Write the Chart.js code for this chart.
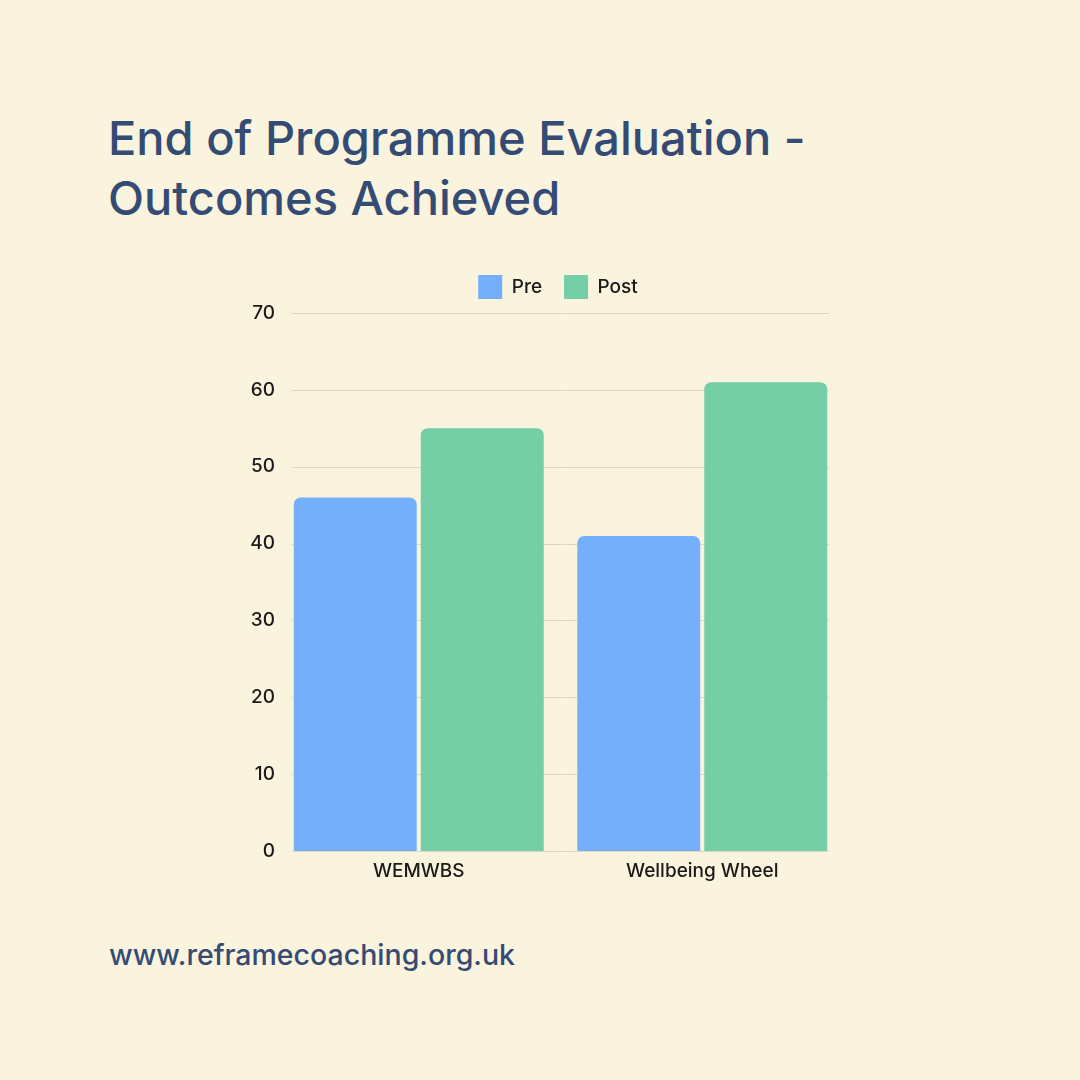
<!DOCTYPE html>
<html>
<head>
<meta charset="utf-8">
<script src="https://cdn.jsdelivr.net/npm/chart.js@4.4.0/dist/chart.umd.min.js"></script>
<style>
  html, body { margin:0; padding:0; width:1080px; height:1080px; background:#FAF3DD; overflow:hidden; }
  #title { position:absolute; left:108px; top:108px; margin:0; font-family:Inter, "Noto Sans", sans-serif; font-weight:500; font-size:47px; line-height:60px; color:#344B74; }
  #footer { position:absolute; left:109px; top:937px; font-family:Inter, "Noto Sans", sans-serif; font-weight:500; font-size:28.5px; color:#344B74; }
  #wrap { position:absolute; left:238px; top:253px; width:640px; height:647px; }
</style>
</head>
<body>
<h1 id="title">End of Programme Evaluation -<br>Outcomes Achieved</h1>
<div id="wrap"><canvas id="c"></canvas></div>
<div id="footer">www.reframecoaching.org.uk</div>
<script>
const categories = ["WEMWBS", "Wellbeing Wheel"];
const preValues = [46, 41];
const postValues = [55, 61];
const yTicks = [0, 10, 20, 30, 40, 50, 60, 70];

Chart.defaults.font.family = "Inter, 'Noto Sans', sans-serif";
Chart.defaults.color = "#1a1a1a";

const insetGrid = {
  id: "insetGrid",
  beforeDatasetsDraw(chart) {
    const { ctx, chartArea, scales } = chart;
    const inset = 15;
    ctx.save();
    ctx.strokeStyle = "#DDD7C3";
    ctx.lineWidth = 1;
    yTicks.forEach(v => {
      const y = Math.round(scales.y.getPixelForValue(v)) + 0.5;
      ctx.beginPath();
      ctx.moveTo(chartArea.left + inset, y);
      ctx.lineTo(chartArea.right - inset, y);
      ctx.stroke();
    });
    ctx.restore();
  }
};

const legendGap = {
  id: "legendGap",
  beforeInit(chart) {
    const orig = chart.legend.fit;
    chart.legend.fit = function () { orig.call(this); this.height += 4; };
  }
};

new Chart(document.getElementById("c"), {
  type: "bar",
  data: {
    labels: categories,
    datasets: [
      { label: "Pre", data: preValues, backgroundColor: "#74AFFC", borderRadius: {topLeft:7, topRight:7}, borderSkipped: "bottom", categoryPercentage: 0.896, barPercentage: 0.968 },
      { label: "Post", data: postValues, backgroundColor: "#74CFA7", borderRadius: {topLeft:7, topRight:7}, borderSkipped: "bottom", categoryPercentage: 0.896, barPercentage: 0.968 }
    ]
  },
  plugins: [insetGrid, legendGap],
  options: {
    responsive: true,
    maintainAspectRatio: false,
    animation: false,
    layout: { padding: 0 },
    plugins: {
      legend: {
        position: "top",
        labels: { boxWidth: 24, boxHeight: 24, padding: 22, font: { size: 19, weight: 500 }, color: "#1a1a1a" }
      },
      tooltip: { enabled: false }
    },
    scales: {
      x: {
        grid: { display: false, drawTicks: false },
        border: { display: false },
        ticks: { padding: 9, font: { size: 19, weight: 500 }, color: "#1a1a1a" },
        afterFit: s => { s.height = 49; }
      },
      y: {
        min: 0, max: 70,
        afterBuildTicks: s => { s.ticks = yTicks.map(v => ({ value: v })); },
        grid: { display: false, drawTicks: false },
        border: { display: false },
        ticks: { padding: 2, font: { size: 19, weight: 500 }, color: "#1a1a1a" },
        afterFit: s => { s.width = 39; }
      },
      yRight: {
        position: "right",
        min: 0, max: 70,
        grid: { display: false, drawTicks: false },
        border: { display: false },
        ticks: { display: false },
        afterFit: s => { s.width = 34; }
      }
    }
  }
});
</script>
</body>
</html>
